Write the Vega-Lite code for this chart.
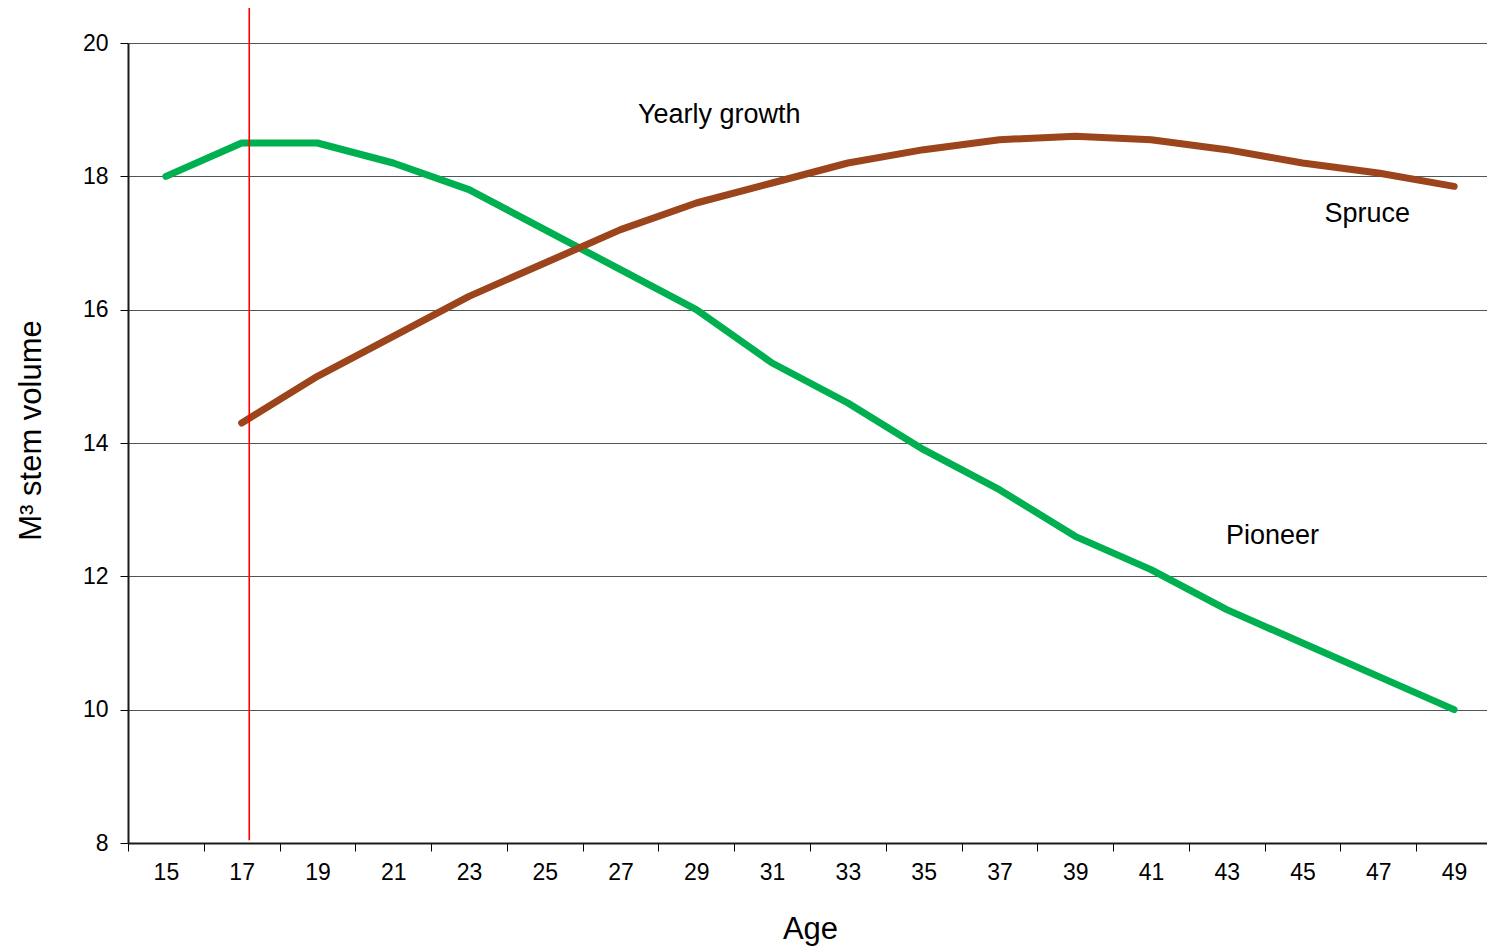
{
  "$schema": "https://vega.github.io/schema/vega-lite/v6.json",
  "autosize": {"type": "none"},
  "padding": {"left": 128, "top": 43, "right": 0, "bottom": 104},
  "width": 1364,
  "height": 800,
  "background": "white",
  "config": {
    "view": {"stroke": null},
    "font": "Liberation Sans",
    "axis": {"labelFont": "Liberation Sans", "titleFont": "Liberation Sans", "labelColor": "#000000", "titleColor": "#000000", "titleFontWeight": "normal"}
  },
  "layer": [
    {
      "data": {
        "values": [
          {"age": 15, "series": "Pioneer", "value": 18.0},
          {"age": 17, "series": "Pioneer", "value": 18.5},
          {"age": 19, "series": "Pioneer", "value": 18.5},
          {"age": 21, "series": "Pioneer", "value": 18.2},
          {"age": 23, "series": "Pioneer", "value": 17.8},
          {"age": 25, "series": "Pioneer", "value": 17.2},
          {"age": 27, "series": "Pioneer", "value": 16.6},
          {"age": 29, "series": "Pioneer", "value": 16.0},
          {"age": 31, "series": "Pioneer", "value": 15.2},
          {"age": 33, "series": "Pioneer", "value": 14.6},
          {"age": 35, "series": "Pioneer", "value": 13.9},
          {"age": 37, "series": "Pioneer", "value": 13.3},
          {"age": 39, "series": "Pioneer", "value": 12.6},
          {"age": 41, "series": "Pioneer", "value": 12.1},
          {"age": 43, "series": "Pioneer", "value": 11.5},
          {"age": 45, "series": "Pioneer", "value": 11.0},
          {"age": 47, "series": "Pioneer", "value": 10.5},
          {"age": 49, "series": "Pioneer", "value": 10.0},
          {"age": 17, "series": "Spruce", "value": 14.3},
          {"age": 19, "series": "Spruce", "value": 15.0},
          {"age": 21, "series": "Spruce", "value": 15.6},
          {"age": 23, "series": "Spruce", "value": 16.2},
          {"age": 25, "series": "Spruce", "value": 16.7},
          {"age": 27, "series": "Spruce", "value": 17.2},
          {"age": 29, "series": "Spruce", "value": 17.6},
          {"age": 31, "series": "Spruce", "value": 17.9},
          {"age": 33, "series": "Spruce", "value": 18.2},
          {"age": 35, "series": "Spruce", "value": 18.4},
          {"age": 37, "series": "Spruce", "value": 18.55},
          {"age": 39, "series": "Spruce", "value": 18.6},
          {"age": 41, "series": "Spruce", "value": 18.55},
          {"age": 43, "series": "Spruce", "value": 18.4},
          {"age": 45, "series": "Spruce", "value": 18.2},
          {"age": 47, "series": "Spruce", "value": 18.05},
          {"age": 49, "series": "Spruce", "value": 17.85}
        ]
      },
      "mark": {"type": "line", "strokeWidth": 7, "strokeCap": "round", "strokeJoin": "round"},
      "encoding": {
        "x": {
          "field": "age", "type": "ordinal", "bandPosition": 0.5,
          "scale": {"type": "band", "domain": [15,17,19,21,23,25,27,29,31,33,35,37,39,41,43,45,47,49], "paddingInner": 0, "paddingOuter": 0},
          "axis": {
            "title": "Age", "titleFontSize": 31, "titlePadding": 30,
            "labelAngle": 0, "labelFontSize": 23, "labelPadding": 10,
            "tickBand": "extent", "tickSize": 8, "tickColor": "#000000", "tickWidth": 1,
            "domainColor": "#1a1a1a", "domainWidth": 2, "grid": false
          }
        },
        "y": {
          "field": "value", "type": "quantitative",
          "scale": {"domain": [8, 20], "nice": false, "zero": false},
          "axis": {
            "title": "M³ stem volume", "titleFontSize": 31, "titlePadding": 35, "titleY": 387,
            "values": [8,10,12,14,16,18,20], "format": "d", "labelFontSize": 23, "labelPadding": 12,
            "tickSize": 8, "tickColor": "#000000", "domainColor": "#1a1a1a", "domainWidth": 2,
            "grid": true, "gridColor": "#4f5858", "gridWidth": 1.2
          }
        },
        "color": {
          "field": "series", "type": "nominal",
          "scale": {"domain": ["Pioneer", "Spruce"], "range": ["#00B050", "#9C441C"]},
          "legend": null
        }
      }
    },
    {
      "data": {"values": [{"age": 17, "from": 8.04, "to": 20.525}]},
      "mark": {"type": "rule", "color": "#FF0000", "strokeWidth": 1.6, "clip": false},
      "encoding": {
        "x": {"field": "age", "type": "ordinal", "bandPosition": 0.6},
        "y": {"field": "from", "type": "quantitative"},
        "y2": {"field": "to"}
      }
    },
    {
      "data": {"values": [{"label": "Yearly growth", "age": 29, "value": 18.92}]},
      "mark": {"type": "text", "fontSize": 27, "dx": 23, "baseline": "middle", "align": "center", "fill": "#000000"},
      "encoding": {
        "x": {"field": "age", "type": "ordinal", "bandPosition": 0.5},
        "y": {"field": "value", "type": "quantitative"},
        "text": {"field": "label"}
      }
    },
    {
      "data": {"values": [{"label": "Spruce", "age": 47, "value": 17.435}]},
      "mark": {"type": "text", "fontSize": 27, "dx": -11, "baseline": "middle", "align": "center", "fill": "#000000"},
      "encoding": {
        "x": {"field": "age", "type": "ordinal", "bandPosition": 0.5},
        "y": {"field": "value", "type": "quantitative"},
        "text": {"field": "label"}
      }
    },
    {
      "data": {"values": [{"label": "Pioneer", "age": 45, "value": 12.605}]},
      "mark": {"type": "text", "fontSize": 27, "dx": -30, "baseline": "middle", "align": "center", "fill": "#000000"},
      "encoding": {
        "x": {"field": "age", "type": "ordinal", "bandPosition": 0.5},
        "y": {"field": "value", "type": "quantitative"},
        "text": {"field": "label"}
      }
    }
  ]
}
